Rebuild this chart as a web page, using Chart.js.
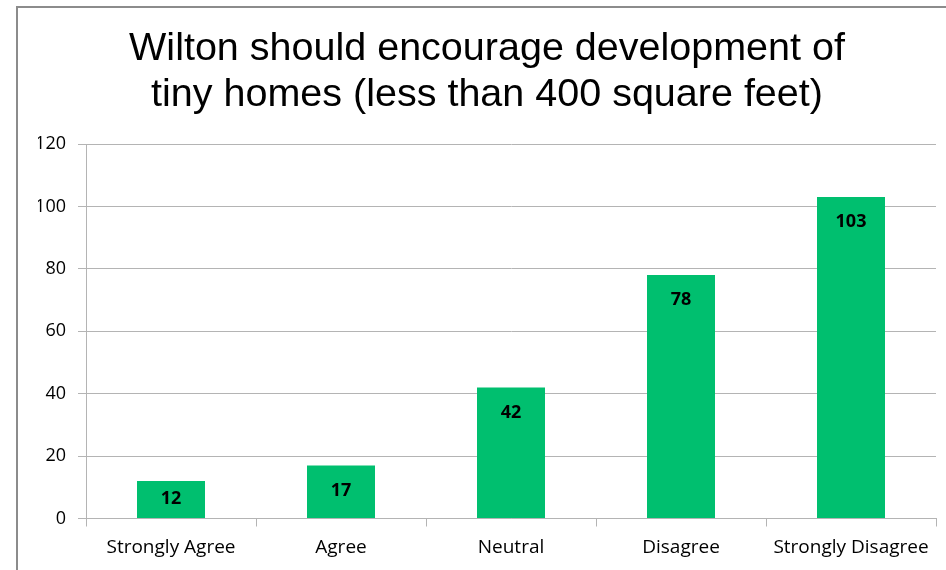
<!DOCTYPE html>
<html>
<head>
<meta charset="utf-8">
<script src="https://cdn.jsdelivr.net/npm/chart.js@4"></script>
<style>
  html, body { margin: 0; padding: 0; background: #fff; overflow: hidden; }
  #frame { position: absolute; left: 16px; top: 6px; width: 1000px; height: 1000px; border: 2px solid #8c8c8c; box-sizing: border-box; }
  #wrap { position: absolute; left: 0; top: 0; width: 946px; height: 570px; }
</style>
</head>
<body>
<div id="frame"></div>
<div id="wrap"><canvas id="chart"></canvas></div>
<script>
const categories = ["Strongly Agree", "Agree", "Neutral", "Disagree", "Strongly Disagree"];
const responses = [12, 17, 42, 78, 103];
const titleLines = ["Wilton should encourage development of", "tiny homes (less than 400 square feet)"];

const gridGray = "#b4b4b4";
const labelFont = "'Open Sans', 'Noto Sans', sans-serif";

// value labels sit just inside the top of each bar
const barValues = {
  id: "barValues",
  afterDatasetsDraw(chart) {
    const ctx = chart.ctx;
    const meta = chart.getDatasetMeta(0);
    ctx.save();
    ctx.font = "bold 18px " + labelFont;
    ctx.fillStyle = "#000";
    ctx.textAlign = "center";
    ctx.textBaseline = "middle";
    meta.data.forEach((bar, i) => {
      const y = Math.min(bar.y + 25, (bar.y + bar.base) / 2 - 1);
      ctx.fillText(String(responses[i]), bar.x, y);
    });
    ctx.restore();
  }
};

new Chart(document.getElementById("chart"), {
  type: "bar",
  data: {
    labels: categories,
    datasets: [{
      data: responses,
      backgroundColor: "#00bf6f",
      borderWidth: 0,
      barPercentage: 0.4,
      categoryPercentage: 1.0
    }]
  },
  options: {
    responsive: true,
    maintainAspectRatio: false,
    animation: false,
    layout: { padding: { left: 38, right: 10, top: 0, bottom: 0 } },
    plugins: {
      legend: { display: false },
      tooltip: { enabled: false },
      title: {
        display: true,
        text: titleLines,
        color: "#000",
        font: { family: "'Liberation Sans', Arial, sans-serif", size: 39.5, weight: "normal", lineHeight: 46 / 39.5 },
        padding: { top: 26, bottom: 26 }
      }
    },
    scales: {
      x: {
        afterFit(scale) { scale.height = 51.5; },
        grid: { offset: true, drawOnChartArea: false, drawTicks: true, tickLength: 8, color: gridGray },
        border: { color: gridGray },
        ticks: { color: "#000", padding: 10, font: { family: labelFont, size: 19 } }
      },
      y: {
        min: 0,
        max: 120,
        afterFit(scale) { scale.width = 48; },
        grid: { color: gridGray, tickLength: 8 },
        border: { color: gridGray },
        ticks: { stepSize: 20, color: "#000", padding: 12, font: { family: labelFont, size: 18 } }
      }
    }
  },
  plugins: [barValues]
});
</script>
</body>
</html>
